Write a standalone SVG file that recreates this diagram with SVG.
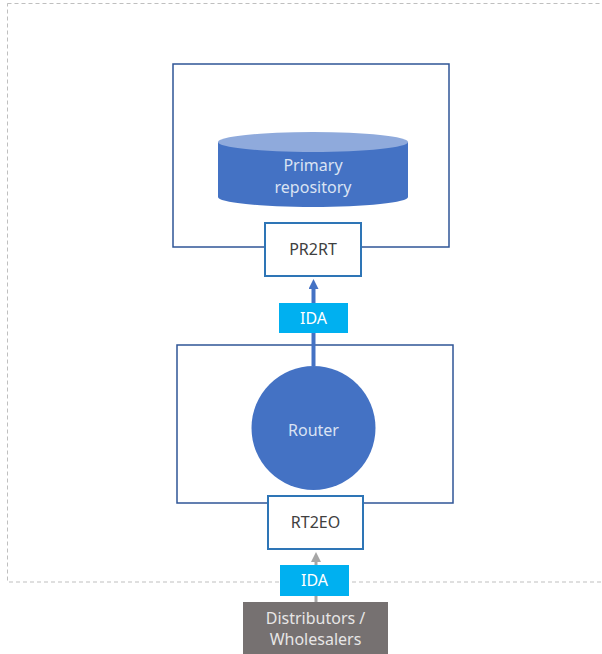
<svg xmlns="http://www.w3.org/2000/svg" width="602" height="654" viewBox="0 0 602 654">
<defs>
<style>
.cont{fill:#fff;stroke:#2F5597;stroke-width:1.5}
.port{fill:#fff;stroke:#2E75B6;stroke-width:2}
.t{font-family:"Noto Sans","Open Sans",sans-serif;font-size:16px;text-anchor:middle}
.dk{fill:#404040}
.wt{fill:#DAE3F3}
</style>
<marker id="ab" markerWidth="10" markerHeight="10" refX="5" refY="5" orient="auto" markerUnits="userSpaceOnUse"><path d="M0,0 L10,5 L0,10 z" fill="#4472C4"/></marker>
<marker id="ag" markerWidth="10" markerHeight="10" refX="5" refY="5" orient="auto" markerUnits="userSpaceOnUse"><path d="M0,0 L10,5 L0,10 z" fill="#A6A6A6"/></marker>
</defs>
<rect x="7.5" y="3.5" width="620" height="578.5" fill="none" stroke="#BFBFBF" stroke-dasharray="4,3"/>
<g id="repo-box"><rect class="cont" x="173" y="64" width="276" height="183"/></g>
<g id="primary-repository">
<path d="M218,142 L218,197 A95,10 0 0 0 408,197 L408,142 Z" fill="#4472C4"/>
<ellipse cx="313" cy="142" rx="95" ry="10" fill="#8FAADC"/>
<text class="t wt" x="313" y="171">Primary</text>
<text class="t wt" x="313" y="193">repository</text>
</g>
<g id="router-box"><rect class="cont" x="177" y="345" width="276" height="158"/></g>
<g id="router">
<circle cx="313.5" cy="428" r="62" fill="#4472C4"/>
<text class="t wt" x="313.5" y="436">Router</text>
</g>
<g id="connectors">
<line x1="313.5" y1="366" x2="313.5" y2="284" stroke="#4472C4" stroke-width="4" marker-end="url(#ab)"/>
<line x1="316" y1="602" x2="316" y2="557" stroke="#A6A6A6" stroke-width="3" marker-end="url(#ag)"/>
</g>
<g id="pr2rt"><rect class="port" x="265" y="223" width="96" height="53"/><text class="t dk" x="313" y="255">PR2RT</text></g>
<g id="rt2eo"><rect class="port" x="268" y="496" width="95" height="53"/><text class="t dk" x="315.5" y="528">RT2EO</text></g>
<g id="ida1"><rect x="279" y="303" width="69" height="30" fill="#00B0F0"/><text class="t" fill="#fff" x="313.5" y="324">IDA</text></g>
<g id="ida2"><rect x="280" y="565" width="69" height="31" fill="#00B0F0"/><text class="t" fill="#fff" x="314.5" y="586">IDA</text></g>
<g id="distributors"><rect x="243" y="602" width="145" height="56" fill="#767171"/>
<text class="t" fill="#E7E6E6" x="315.5" y="624">Distributors /</text>
<text class="t" fill="#E7E6E6" x="315.5" y="645">Wholesalers</text></g>
</svg>
